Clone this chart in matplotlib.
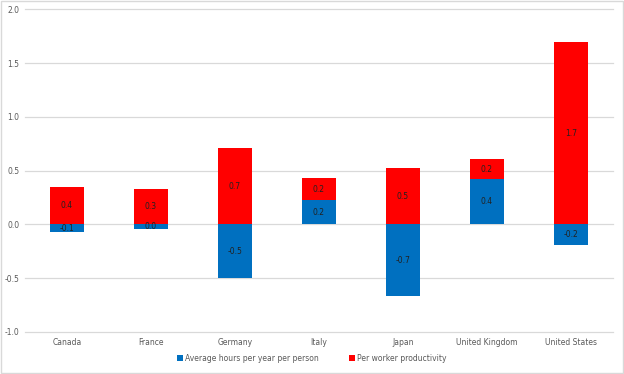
import matplotlib
matplotlib.use("Agg")
import matplotlib.pyplot as plt
from matplotlib.patches import Rectangle, Patch
import numpy as np

countries = ["Canada", "France", "Germany", "Italy", "Japan", "United Kingdom", "United States"]
hours = [-0.07, -0.04, -0.495, 0.226, -0.666, 0.425, -0.195]
productivity = [0.353, 0.33, 0.71, 0.204, 0.527, 0.182, 1.70]

BLUE = "#0070C0"
RED = "#FF0000"
GRID = "#D9D9D9"
TXT = "#595959"

fig = plt.figure(figsize=(6.24, 3.74), dpi=100)
ax = fig.add_axes([0.040, 0.1123, 0.942, 0.8623])

x = np.arange(len(countries))
h = np.array(hours)
p = np.array(productivity)
w = 0.41

ax.bar(x, h, width=w, color=BLUE, zorder=3)
red_bottom = np.where(h > 0, h, 0)
ax.bar(x, p, width=w, bottom=red_bottom, color=RED, zorder=3)


def fmt(v):
    s = f"{v:.1f}"
    return "0.0" if s == "-0.0" else s


for xi, hv, pv, rb in zip(x, h, p, red_bottom):
    ax.text(xi, hv / 2, fmt(hv), ha="center", va="center", fontsize=5.5, color="#222222", zorder=4)
    ax.text(xi, rb + pv / 2, fmt(pv), ha="center", va="center", fontsize=5.5, color="#222222", zorder=4)

ax.set_xlim(-0.5, len(countries) - 0.5)
ax.set_ylim(-1.0, 2.0)
yt = np.arange(-1.0, 2.01, 0.5)
ax.set_yticks(yt)
ax.set_yticklabels([f"{v:.1f}" for v in yt])
ax.set_xticks(x)
ax.set_xticklabels(countries)
ax.tick_params(axis="both", length=0, labelsize=5.5, colors=TXT, pad=4)
ax.yaxis.grid(True, color=GRID, linewidth=0.9, zorder=0)
for gl in ax.yaxis.get_gridlines():
    gl.set_clip_on(False)
for s in ax.spines.values():
    s.set_visible(False)

handles = [Patch(facecolor=BLUE, label="Average hours per year per person"),
           Patch(facecolor=RED, label="Per worker productivity")]
fig.legend(handles=handles, loc="center", bbox_to_anchor=(0.5, 0.042), ncol=2, frameon=False,
           fontsize=5.5, labelcolor=TXT, handlelength=0.7, handleheight=0.7, handletextpad=0.3,
           columnspacing=4)

fig.patches.append(Rectangle((0.001, 0.002), 0.997, 0.995, transform=fig.transFigure,
                             fill=False, edgecolor=GRID, linewidth=1))

fig.savefig("out.png", dpi=100)
